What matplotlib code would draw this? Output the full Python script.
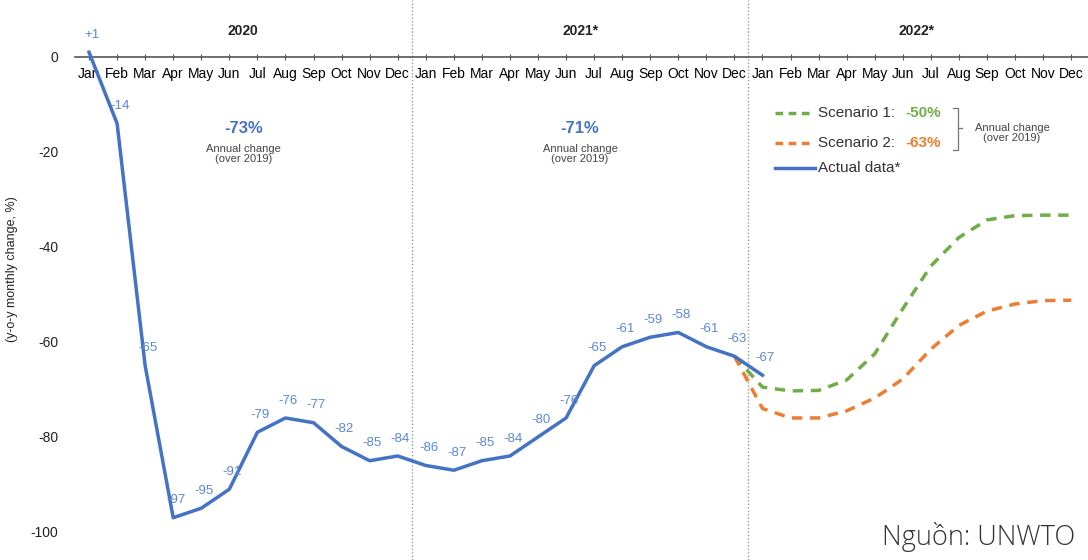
import matplotlib
matplotlib.use("Agg")
import matplotlib.pyplot as plt
from matplotlib.lines import Line2D

plt.rcParams['font.family'] = ['Liberation Sans', 'DejaVu Sans']

# --------------------------------------------------
# data
# --------------------------------------------------
months = ["Jan", "Feb", "Mar", "Apr", "May", "Jun",
          "Jul", "Aug", "Sep", "Oct", "Nov", "Dec"]
years = ["2020", "2021*", "2022*"]

actual = [1, -14, -65, -97, -95, -91, -79, -76, -77, -82, -85, -84,
          -86, -87, -85, -84, -80, -76, -65, -61, -59, -58, -61, -63,
          -67]
actual_labels = ["+1", "-14", "-65", "-97", "-95", "-91", "-79", "-76", "-77",
                 "-82", "-85", "-84", "-86", "-87", "-85", "-84", "-80", "-76",
                 "-65", "-61", "-59", "-58", "-61", "-63", "-67"]

# scenarios start at Dec 2021 (index 23)
scenario1 = [-63, -69.5, -70.3, -70.2, -68, -62.5, -53, -44, -38, -34.3, -33.4, -33.3, -33.3]
scenario2 = [-63, -74, -76, -76, -74.5, -71.8, -67.8, -61.5, -56.5, -53.5, -52, -51.3, -51.2]

annual_change = ["-73%", "-71%"]
scenario_change = ["-50%", "-63%"]

BLUE = "#4472C4"
LBLUE = "#5b86d8"
GREEN = "#70AD47"
ORANGE = "#ED7D31"

W, H = 1088, 560


def px(x, y):
    # pixel position -> figure fraction
    return x / W, 1 - y / H


fig = plt.figure(figsize=(W / 100, H / 100), dpi=100)
ax = fig.add_axes([75 / W, 0, 1 - 75 / W, 1])

x_act = list(range(len(actual)))
x_scn = list(range(23, 23 + len(scenario1)))

ax.plot(x_scn, scenario1, color=GREEN, lw=2.5, dashes=(3, 2.2), zorder=2)
ax.plot(x_scn, scenario2, color=ORANGE, lw=2.5, dashes=(3, 2.2), zorder=2)
ax.plot(x_act, actual, color=BLUE, lw=2.5, zorder=3)

for xi, yi, lab in zip(x_act, actual, actual_labels):
    ax.annotate(lab, (xi, yi), xytext=(2, 12.5), textcoords="offset points",
                ha="center", va="center", fontsize=9.5, color=LBLUE)

# year separators
for xs in (11.5, 23.5):
    ax.axvline(xs, color="#9a9a9a", lw=1.0, ls=(0, (1, 1.5)), zorder=1)

for i, yr in enumerate(years):
    ax.text(i * 12 + 5.5, 5.5, yr, ha="center", va="center",
            fontsize=10, fontweight="bold", color="#222222")

# annual change notes
for i, ch in enumerate(annual_change):
    xc = i * 12 + 5.5
    ax.text(xc, -15, ch, ha="center", va="center", fontsize=12,
            fontweight="bold", color=BLUE)
    ax.text(xc, -20.5, "Annual change\n(over 2019)", ha="center", va="center",
            fontsize=8, color="#444444", linespacing=1.0)

ax.set_xlim(-0.5, 35.6)
ax.set_ylim(-105.9, 12)

ax.set_xticks(range(36))
ax.set_xticklabels(months * 3, fontsize=10, color="#222222")
ax.set_yticks([0, -20, -40, -60, -80, -100])
ax.set_yticklabels(["0", "-20", "-40", "-60", "-80", "-100"], fontsize=10, color="#222222")

for s in ("top", "right", "left"):
    ax.spines[s].set_visible(False)
ax.spines["bottom"].set_position(("data", 0))
ax.spines["bottom"].set_color("#555555")
ax.spines["bottom"].set_linewidth(1.2)
ax.tick_params(axis="x", direction="inout", length=4, color="#555555", pad=5)
ax.tick_params(axis="y", length=0, pad=12)

ax.set_ylabel("(y-o-y monthly change, %)", fontsize=9, color="#222222")
ax.yaxis.set_label_coords(-57 / (W - 75), 0.52)

# legend drawn by hand
leg = [(113, GREEN, (2.2, 1.6), "Scenario 1:"),
       (143, ORANGE, (2.2, 1.6), "Scenario 2:"),
       (168, BLUE, None, "Actual data*")]
for yy, col, dash, lab in leg:
    x_end = 809 if dash else 815
    (x0, y0), (x1, _) = px(775, yy), px(x_end, yy)
    ln = Line2D([x0, x1], [y0, y0], transform=fig.transFigure, color=col, lw=2.5)
    if dash:
        ln.set_dashes(dash)
    fig.add_artist(ln)
    fig.text(*px(818, yy), lab, ha="left", va="center", fontsize=11, color="#333333")
for yy, col, ch in [(113, GREEN, scenario_change[0]), (143, ORANGE, scenario_change[1])]:
    fig.text(*px(905, yy), ch, ha="left", va="center", fontsize=11,
             fontweight="bold", color=col)

# bracket
bx = [px(953, 108), px(958, 108), px(958, 150), px(953, 150)]
fig.add_artist(Line2D([p[0] for p in bx], [p[1] for p in bx],
                      transform=fig.transFigure, color="#777777", lw=0.9))
fig.add_artist(Line2D([px(958, 128)[0], px(962, 128)[0]], [px(958, 128)[1]] * 2,
                      transform=fig.transFigure, color="#777777", lw=0.9))
fig.text(*px(1012, 133), "Annual change\n(over 2019)", ha="center", va="center",
         fontsize=8, color="#444444", linespacing=1.0)

# source
fig.text(*px(882, 537), "Nguồn: UNWTO", ha="left", va="center", fontsize=19.5,
         fontweight="light", color="#333333", family=["Open Sans", "DejaVu Sans"])

fig.savefig("out.png", dpi=100)
